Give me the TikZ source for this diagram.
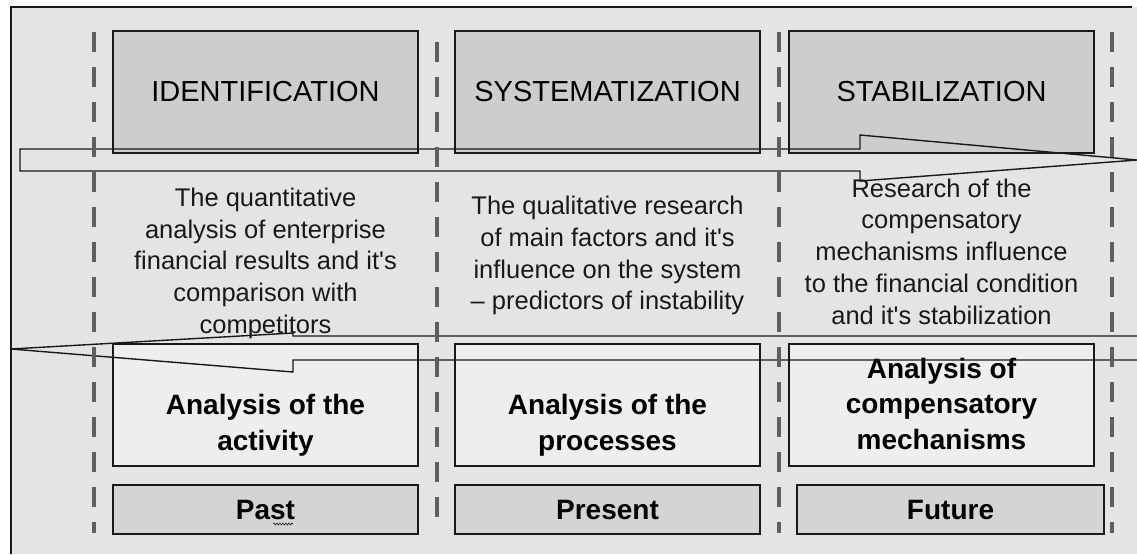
\documentclass[tikz,border=0pt]{standalone}
\usepackage{fontspec}
\setmainfont{Liberation Sans}
\usepackage{tikz}
\usetikzlibrary{decorations.pathmorphing}
\definecolor{paper}{RGB}{228,228,228}
\definecolor{phasegray}{RGB}{205,205,205}
\definecolor{resultgray}{RGB}{238,238,238}
\definecolor{timegray}{RGB}{212,212,212}
\definecolor{sepgray}{RGB}{95,95,95}
\definecolor{ink}{RGB}{25,25,25}
\tikzset{phase/.style={draw=ink,fill=phasegray,line width=1.3pt,minimum width=305pt,minimum height=122pt,inner sep=0pt,font=\fontsize{29}{34}\selectfont}}
\tikzset{result/.style={draw=ink,fill=resultgray,line width=1.3pt,minimum width=305pt,minimum height=122pt,inner sep=0pt}}
\tikzset{period/.style={draw=ink,fill=timegray,line width=1.3pt,minimum width=305pt,minimum height=49pt,inner sep=0pt,font=\fontsize{28}{34}\selectfont\bfseries}}
\tikzset{resulttext/.style={align=center,inner sep=0pt,font=\fontsize{28}{35.75}\selectfont\bfseries}}
\tikzset{note/.style={align=center,inner sep=0pt,text=ink,font=\fontsize{25.5}{31.75}\selectfont}}
\tikzset{flow/.style={draw=ink,line width=1.4pt,line join=miter}}
\tikzset{divider/.style={draw=sepgray,line width=4pt,dash pattern=on 20pt off 15pt}}

\begin{document}
\begin{tikzpicture}[x=1pt,y=-1pt]
\useasboundingbox (0,0) rectangle (1137,554);
\fill[paper] (11,7) rectangle (1137,554);
\draw[ink,line width=1.2pt] (11,554) -- (11,7) -- (1132,7);

% stages
\node[phase](Ph1) at (265.5,92){IDENTIFICATION};
\node[phase](Ph2) at (607.5,92){SYSTEMATIZATION};
\node[phase](Ph3) at (941.5,92){STABILIZATION};

% what is analysed
\node[result](An1) at (265.5,405){};
\node[result](An2) at (607.5,405){};
\node[result](An3) at (941.5,405){};
\node[resulttext](Ra1) at (265.5,425.2){Analysis of the\\activity};
\node[resulttext](Ra2) at (607.5,425.2){Analysis of the\\processes};
\node[resulttext](Ra3) at (941.5,403.8){Analysis of\\compensatory\\mechanisms};

% time
\node[period](Tm1) at (265.5,509.5){Past};
\node[period](Tm2) at (607.5,509.5){Present};
\node[period,minimum width=307pt](Tm3) at (950.5,509.5){Future};
\draw[ink,line width=0.6pt,decorate,decoration={snake,amplitude=1pt,segment length=3pt}] (273,524) -- (293,524);

% block arrows
\draw[flow] (20,149) -- (860,149) -- (860,135) -- (1137,160) -- (860,181) -- (860,171) -- (20,171) -- cycle;
\draw[flow] (1137,336) -- (293,336) -- (293,333) -- (11,349) -- (293,372) -- (293,360) -- (1137,360);

% borders between stages
\draw[divider] (94,32) -- (94,533);
\draw[divider] (437,42) -- (437,517);
\draw[divider] (779,32) -- (779,533);
\draw[divider] (1112,32) -- (1112,533);

% descriptions
\node[note](Tx1) at (265.5,263.4){The quantitative\\analysis of enterprise\\financial results and it\textquotesingle s\\comparison with\\competitors};
\node[note](Tx2) at (607.5,255.6){The qualitative research\\of main factors and it\textquotesingle s\\influence on the system\\-- predictors of instability};
\node[note](Tx3) at (941.5,251.4){Research of the\\compensatory\\mechanisms influence\\to the financial condition\\and it\textquotesingle s stabilization};
\end{tikzpicture}
\end{document}
